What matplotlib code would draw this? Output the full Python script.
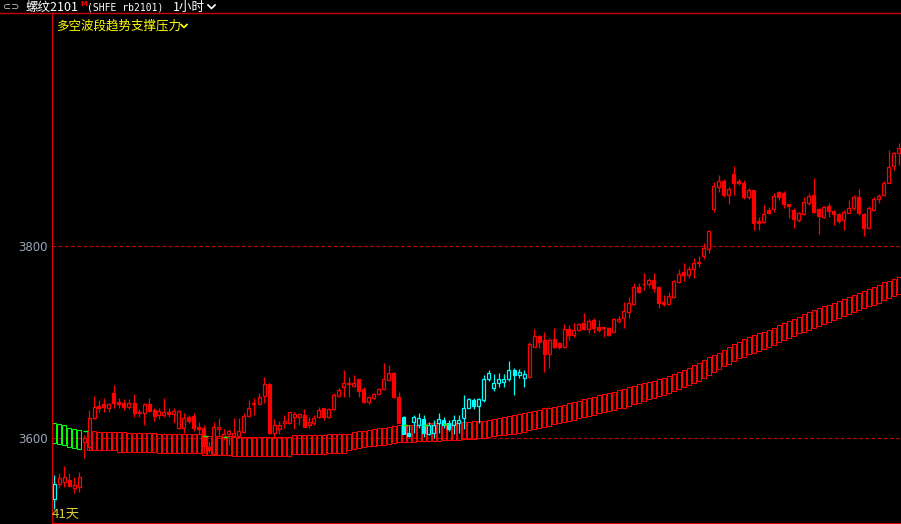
import numpy as np
import matplotlib.pyplot as plt
from matplotlib.patches import Rectangle

# candles, one per hour bar
opens = [3537, 3553, 3555, 3557, 3548, 3549, 3596, 3591, 3621, 3634,
         3636, 3632, 3647, 3638, 3637, 3633, 3637, 3626, 3626, 3636,
         3629, 3624, 3624, 3627, 3625, 3611, 3611, 3622, 3623, 3612,
         3611, 3591, 3584, 3610, 3601, 3604, 3602, 3602, 3607, 3623,
         3636, 3636, 3644, 3656, 3606, 3610, 3616, 3616, 3622, 3622,
         3624, 3614, 3616, 3622, 3631, 3622, 3630, 3644, 3653, 3656,
         3654, 3662, 3651, 3638, 3642, 3646, 3651, 3661, 3668, 3643,
         3622, 3606, 3617, 3614, 3620, 3605, 3606, 3616, 3619, 3616,
         3614, 3616, 3621, 3632, 3640, 3634, 3640, 3662, 3652, 3657,
         3659, 3662, 3671, 3666, 3663, 3664, 3695, 3706, 3702, 3688,
         3703, 3699, 3695, 3714, 3707, 3713, 3720, 3714, 3723, 3716,
         3715, 3715, 3710, 3722, 3725, 3731, 3740, 3757, 3760, 3760,
         3765, 3757, 3742, 3740, 3747, 3762, 3773, 3770, 3776, 3782,
         3789, 3797, 3838, 3861, 3867, 3853, 3875, 3867, 3865, 3851,
         3858, 3826, 3825, 3837, 3838, 3856, 3855, 3844, 3837, 3827,
         3833, 3845, 3853, 3838, 3830, 3841, 3836, 3833, 3827, 3834,
         3839, 3851, 3833, 3819, 3837, 3849, 3853, 3865, 3883, 3896]
highs = [3562, 3564, 3571, 3564, 3560, 3565, 3603, 3629, 3644, 3640,
         3642, 3637, 3655, 3642, 3641, 3641, 3646, 3630, 3637, 3642,
         3632, 3631, 3642, 3631, 3631, 3629, 3626, 3624, 3626, 3617,
         3614, 3596, 3617, 3621, 3610, 3610, 3621, 3621, 3626, 3640,
         3642, 3647, 3664, 3658, 3620, 3618, 3624, 3627, 3627, 3626,
         3630, 3622, 3624, 3633, 3632, 3632, 3647, 3652, 3671, 3664,
         3666, 3662, 3653, 3644, 3647, 3652, 3678, 3676, 3669, 3648,
         3623, 3614, 3624, 3626, 3624, 3617, 3619, 3626, 3622, 3619,
         3624, 3624, 3645, 3642, 3642, 3642, 3666, 3671, 3667, 3668,
         3667, 3680, 3673, 3672, 3671, 3700, 3714, 3707, 3710, 3704,
         3715, 3700, 3719, 3718, 3720, 3720, 3730, 3724, 3725, 3723,
         3716, 3716, 3725, 3727, 3742, 3747, 3761, 3761, 3772, 3767,
         3772, 3757, 3749, 3752, 3765, 3776, 3782, 3779, 3787, 3789,
         3803, 3817, 3866, 3874, 3869, 3861, 3883, 3870, 3868, 3860,
         3858, 3830, 3842, 3840, 3855, 3857, 3857, 3844, 3839, 3835,
         3851, 3855, 3871, 3839, 3841, 3845, 3837, 3834, 3837, 3848,
         3853, 3859, 3834, 3841, 3851, 3854, 3867, 3900, 3898, 3907]
lows = [3527, 3548, 3549, 3550, 3543, 3544, 3580, 3588, 3620, 3627,
        3627, 3627, 3632, 3631, 3629, 3630, 3622, 3622, 3614, 3627,
        3618, 3620, 3622, 3622, 3616, 3610, 3606, 3616, 3608, 3605,
        3585, 3585, 3584, 3601, 3598, 3593, 3601, 3600, 3606, 3622,
        3624, 3636, 3637, 3605, 3600, 3605, 3611, 3615, 3610, 3614,
        3612, 3611, 3614, 3621, 3619, 3621, 3629, 3643, 3643, 3643,
        3653, 3643, 3637, 3636, 3641, 3645, 3650, 3660, 3642, 3616,
        3604, 3601, 3606, 3611, 3601, 3603, 3600, 3606, 3611, 3608,
        3605, 3606, 3610, 3631, 3630, 3616, 3638, 3660, 3649, 3653,
        3653, 3660, 3645, 3663, 3653, 3663, 3695, 3694, 3669, 3673,
        3694, 3693, 3694, 3702, 3705, 3712, 3713, 3709, 3709, 3710,
        3705, 3706, 3710, 3720, 3715, 3725, 3739, 3751, 3754, 3757,
        3752, 3735, 3738, 3740, 3746, 3761, 3763, 3767, 3767, 3778,
        3786, 3793, 3835, 3856, 3851, 3844, 3853, 3863, 3849, 3849,
        3816, 3817, 3824, 3833, 3835, 3848, 3839, 3829, 3819, 3825,
        3832, 3842, 3834, 3812, 3829, 3830, 3822, 3824, 3816, 3834,
        3837, 3832, 3810, 3818, 3836, 3845, 3852, 3865, 3879, 3884]
closes = [3553, 3559, 3560, 3550, 3551, 3560, 3600, 3621, 3633, 3632,
          3633, 3636, 3637, 3636, 3633, 3637, 3626, 3627, 3636, 3628,
          3623, 3628, 3627, 3625, 3628, 3628, 3621, 3618, 3611, 3610,
          3592, 3588, 3612, 3612, 3604, 3608, 3606, 3608, 3623, 3632,
          3637, 3643, 3656, 3606, 3614, 3614, 3618, 3627, 3625, 3625,
          3612, 3617, 3621, 3629, 3622, 3630, 3645, 3650, 3658, 3658,
          3658, 3649, 3638, 3643, 3646, 3651, 3662, 3668, 3643, 3616,
          3605, 3602, 3622, 3621, 3606, 3614, 3614, 3620, 3614, 3610,
          3619, 3619, 3632, 3641, 3634, 3641, 3662, 3668, 3658, 3662,
          3662, 3671, 3666, 3669, 3667, 3698, 3706, 3700, 3688, 3702,
          3695, 3695, 3714, 3707, 3713, 3719, 3714, 3722, 3715, 3713,
          3716, 3707, 3724, 3724, 3732, 3741, 3757, 3752, 3760, 3765,
          3756, 3741, 3740, 3748, 3763, 3771, 3770, 3776, 3782, 3783,
          3798, 3815, 3862, 3867, 3853, 3859, 3865, 3865, 3851, 3858,
          3824, 3824, 3833, 3834, 3852, 3851, 3843, 3841, 3828, 3834,
          3846, 3852, 3835, 3831, 3840, 3836, 3833, 3826, 3835, 3839,
          3851, 3834, 3819, 3839, 3849, 3852, 3865, 3882, 3896, 3902]

# support band (upper / lower edge per bar), nan = no band drawn
nan = np.nan
band_upper = [3616, 3615, 3614, 3611, 3610, 3609, nan, 3608, 3608, 3607,
              3607, 3607, 3607, 3607, 3607, 3606, 3606, 3606, 3606, 3606,
              3606, 3605, 3605, 3605, 3605, 3605, 3604, 3604, 3604, 3604,
              3602, 3602, 3602, 3602, 3602, 3602, 3601, 3601, 3601, 3601,
              3601, 3601, 3601, 3601, 3601, 3601, 3601, 3601, 3603, 3603,
              3603, 3603, 3603, 3603, 3603, 3604, 3604, 3604, 3604, 3605,
              3607, 3608, 3608, 3609, 3610, 3611, 3611, 3612, 3613, 3614,
              3614, 3614, 3614, 3615, 3615, 3616, 3616, 3616, 3616, 3616,
              3616, 3617, 3617, 3617, 3618, 3618, 3618, 3619, 3620, 3621,
              3622, 3623, 3624, 3625, 3626, 3627, 3628, 3629, 3631, 3632,
              3633, 3634, 3635, 3637, 3638, 3639, 3641, 3642, 3643, 3645,
              3646, 3647, 3648, 3650, 3651, 3653, 3654, 3656, 3657, 3659,
              3660, 3662, 3663, 3665, 3667, 3669, 3671, 3673, 3676, 3678,
              3681, 3684, 3687, 3689, 3692, 3695, 3698, 3700, 3703, 3705,
              3707, 3709, 3711, 3713, 3715, 3718, 3720, 3722, 3724, 3726,
              3729, 3731, 3733, 3735, 3737, 3739, 3741, 3743, 3745, 3747,
              3749, 3751, 3753, 3755, 3757, 3759, 3762, 3764, 3766, 3768]
band_lower = [3595, 3594, 3593, 3591, 3590, 3589, nan, 3588, 3588, 3588,
              3588, 3588, 3588, 3586, 3586, 3586, 3586, 3586, 3586, 3586,
              3586, 3585, 3585, 3585, 3585, 3585, 3585, 3585, 3585, 3585,
              3583, 3583, 3583, 3583, 3583, 3583, 3582, 3582, 3582, 3582,
              3582, 3582, 3582, 3582, 3582, 3582, 3582, 3582, 3584, 3584,
              3584, 3584, 3584, 3584, 3584, 3585, 3585, 3585, 3585, 3588,
              3589, 3590, 3591, 3592, 3592, 3593, 3593, 3594, 3595, 3596,
              3596, 3596, 3596, 3597, 3597, 3597, 3597, 3597, 3598, 3598,
              3598, 3598, 3599, 3599, 3599, 3600, 3600, 3601, 3602, 3603,
              3603, 3604, 3605, 3606, 3607, 3609, 3610, 3611, 3612, 3613,
              3615, 3616, 3617, 3618, 3619, 3621, 3622, 3623, 3624, 3626,
              3627, 3628, 3629, 3631, 3632, 3634, 3636, 3637, 3639, 3641,
              3642, 3644, 3645, 3647, 3649, 3651, 3653, 3655, 3657, 3660,
              3663, 3666, 3669, 3672, 3675, 3677, 3680, 3683, 3685, 3688,
              3689, 3691, 3693, 3695, 3697, 3700, 3702, 3704, 3706, 3709,
              3711, 3713, 3715, 3717, 3719, 3721, 3723, 3725, 3727, 3729,
              3731, 3733, 3735, 3737, 3739, 3741, 3744, 3746, 3748, 3750]

# bars where the indicator is in its weak state (cyan candles / green band)
weak_candles = [0] + list(range(70, 95))
weak_band = [0, 1, 2, 3, 4, 5]

# short green signal marks
mark_idx = [6, 30, 34, 70, 74, 78]
mark_price = [3608, 3602, 3601, 3614, 3614, 3615]

y_ticks = [3600, 3800]

RED = "#ff0000"
CYAN = "#00ffff"
GREEN = "#00ff00"
CJK = ["Noto Sans CJK SC", "DejaVu Sans"]

fig = plt.figure(figsize=(9.01, 5.24), dpi=100, facecolor="black")
ax = fig.add_axes([52 / 901, 1 / 524, 849 / 901, 510 / 524])
ax.set_facecolor("black")
ax.set_xlim(-0.4, 169.4)
ax.set_ylim(3512, 4042)

#band
for i in range(len(band_upper)):
    if np.isnan(band_upper[i]):
        continue
    col = GREEN if i in weak_band else RED
    ax.add_patch(Rectangle((i - 0.35, band_lower[i]), 0.7, band_upper[i] - band_lower[i],
                           fill=False, edgecolor=col, lw=0.75, zorder=2))

#candles
for i in range(len(opens)):
    o, h, l, c = opens[i], highs[i], lows[i], closes[i]
    col = CYAN if i in weak_candles else RED
    ax.vlines(i, l, h, color=col, lw=0.9, zorder=3)
    face = "black" if c >= o else col
    ax.add_patch(Rectangle((i - 0.3, min(o, c)), 0.6, abs(c - o),
                           facecolor=face, edgecolor=col, lw=0.9, zorder=4))

for i, p in zip(mark_idx, mark_price):
    ax.hlines(p, i - 0.2, i + 0.8, color=GREEN, lw=1.0, zorder=5)

ax.set_yticks(y_ticks)
ax.set_yticklabels([str(t) for t in y_ticks])
ax.tick_params(axis="y", length=0, labelcolor="#9aa6b8", labelsize=8.5, pad=3)
ax.tick_params(axis="x", bottom=False, labelbottom=False)
ax.grid(axis="y", color="#c00000", linestyle=(0, (3.5, 2)), lw=0.8)
ax.set_axisbelow(True)
for s in ["top", "right"]:
    ax.spines[s].set_visible(False)
ax.spines["left"].set_color("#e00000")
ax.spines["bottom"].set_color("#e00000")

# overlay in pixel coords for the header texts
ov = fig.add_axes([0, 0, 1, 1])
ov.set_xlim(0, 901)
ov.set_ylim(524, 0)
ov.axis("off")
ov.plot([0, 901], [13, 13], color="#d00000", lw=1)
ov.text(3, 7, "⊂⊃", color="#c8c8c8", fontsize=7, va="center", family="DejaVu Sans")
ov.text(25, 7, "螺纹2101", color="white", fontsize=9, va="center", family=CJK)
ov.text(80, 4, "M", color=RED, fontsize=5, va="center", fontweight="bold")
ov.text(87, 7, "(SHFE rb2101)", color="white", fontsize=7, va="center", family="DejaVu Sans Mono")
ov.text(173, 7, "1小时", color="white", fontsize=9, va="center", family=CJK)
ov.plot([208, 211.5, 215], [5, 8.5, 5], color="white", lw=1.2)
ov.text(56, 26, "多空波段趋势支撑压力", color="#ffff00", fontsize=9, va="center", family=CJK)
ov.plot([181, 184, 187], [24.5, 27.5, 24.5], color="#ffff00", lw=1.2)
ov.text(52, 514, "41天", color="#d8d030", fontsize=9.5, va="center", family=CJK)

fig.savefig("out.png", dpi=100, facecolor="black")
